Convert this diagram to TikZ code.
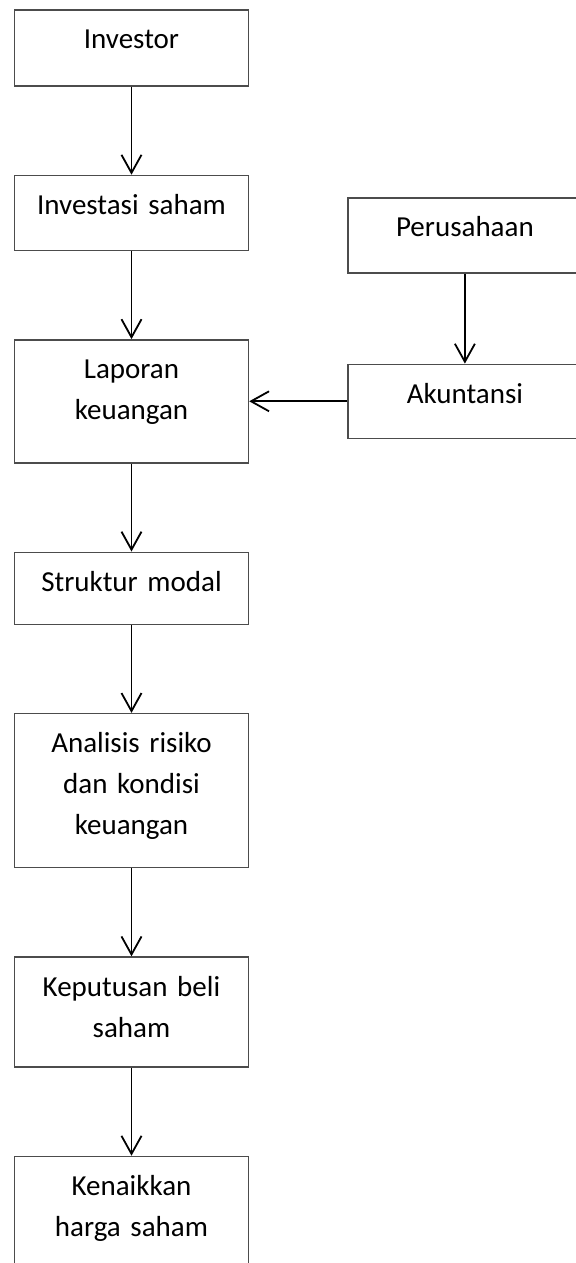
\documentclass[tikz,border=0pt]{standalone}
\usepackage{fontspec}
\setmainfont{Carlito}
\usetikzlibrary{calc,positioning,chains,arrows.meta}
\tikzset{
	>={Straight Barb[length=9pt,width=10pt]},
	box/.style={
		rectangle,
		draw=black!70, line width=0.7pt,
		text width=113pt,
		inner xsep=2pt, inner ysep=0pt,
		text height=19.5pt,
		align=center,
		font=\fontsize{14.5pt}{20.5pt}\selectfont},
	line/.style={draw, line width=0.9pt, ->},
	every join/.style={line},
}

\begin{document}
\begin{tikzpicture}
[node distance=44pt,
start chain=going below,]
\useasboundingbox (-65.75pt,24pt) rectangle (221.75pt,-607.5pt);
\node[box, on chain, text depth=18.5pt] (inv){Investor};
\node[box, on chain, join, text depth=18pt] (invs){Investasi saham};
\node[box, on chain, join, text depth=42pt] (lap){Laporan\\ keuangan};
\node[box, on chain, join, text depth=16.5pt] (struk){Struktur modal};
\node[box, on chain, join, text depth=57.5pt] (anal){Analisis risiko\\ dan kondisi\\ keuangan};
\node[box, on chain, join, text depth=35.5pt] (kep){Keputusan beli\\ saham};
\node[box, on chain, join, text depth=60pt] (naik){Kenaikkan\\ harga saham};

% sisi kanan
\node[box, right=49pt of lap, text depth=17.5pt] (akun){Akuntansi};
\node[box, above=45pt of akun, text depth=18pt] (per){Perusahaan};
\draw[line] (per) -- (akun);
\draw[line] (akun) -- (lap);
\end{tikzpicture}
\end{document}
